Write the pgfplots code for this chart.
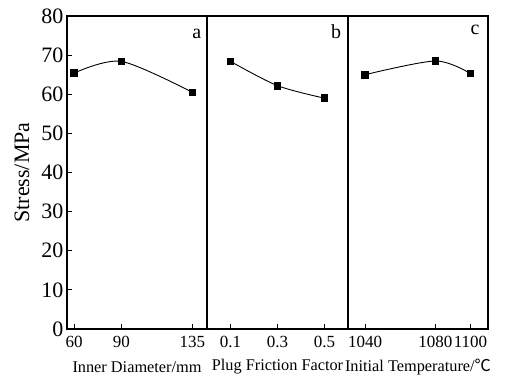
\documentclass[border=0pt]{standalone}
\usepackage{fontspec}
\setmainfont{Liberation Serif}
\newfontfamily\cjk{Noto Sans CJK SC}
\usepackage{pgfplots}
\pgfplotsset{compat=1.18}
\pgfplotsset{
  panel/.style={
    scale only axis, height=313pt, anchor=south west,
    ymin=0, ymax=80,
    axis line style={line width=1.2pt},
    tick align=inside, xtick pos=lower, ytick pos=left,
    every tick/.style={black, line width=1pt},
    major tick length=5.5pt,
    /pgf/number format/assume math mode=true,
    /pgf/number format/1000 sep={},
    xticklabel style={font=\fontsize{17}{17}\selectfont, yshift=-4pt},
    yticklabel style={font=\fontsize{22}{22}\selectfont},
    xlabel style={font=\fontsize{16.3}{16.3}\selectfont, at={(axis description cs:0.5,0)}, anchor=center, yshift=-38pt},
    ylabel style={font=\fontsize{22}{22}\selectfont, at={(axis description cs:0,0.5)}, anchor=center, yshift=45pt},
    xtick=data,
  },
  curve/.style={black, line width=0.9pt, smooth, mark=square*, mark size=3.3pt, mark options={solid}},
}
\begin{document}
\begin{tikzpicture}
\useasboundingbox (0,0) rectangle (505pt,378pt);
% panel a
\begin{axis}[panel, at={(67pt,49pt)}, width=140pt,
  xmin=55.5, xmax=144.3, ytick={0,10,...,80},
  xticklabels={60,90,135},
  xlabel={Inner Diameter/mm}, ylabel={Stress/MPa}]
\addplot[curve] coordinates {(60,65.4) (90,68.4) (135,60.5)};
\node[anchor=base, font=\fontsize{20}{20}\selectfont] at (axis description cs:0.927,0.927) {a};
\end{axis}
% panel b
\begin{axis}[panel, at={(207pt,49pt)}, width=141pt,
  xmin=0, xmax=0.6, ytick=\empty,
  xticklabels={0.1,0.3,0.5},
  xlabel={Plug Friction Factor}]
\addplot[curve] coordinates {(0.1,68.4) (0.3,62.2) (0.5,59.0)};
\node[anchor=base, font=\fontsize{20}{20}\selectfont] at (axis description cs:0.915,0.927) {b};
\end{axis}
% panel c
\begin{axis}[panel, at={(348pt,49pt)}, width=140pt,
  xmin=1030.3, xmax=1110, ytick=\empty,
  xticklabels={1040,1080,1100},
  xlabel={Initial Temperature/{\cjk ℃}}]
\addplot[curve] coordinates {(1040,65.0) (1080,68.5) (1100,65.3)};
\node[anchor=base, font=\fontsize{20}{20}\selectfont] at (axis description cs:0.907,0.941) {c};
\end{axis}
\end{tikzpicture}
\end{document}
